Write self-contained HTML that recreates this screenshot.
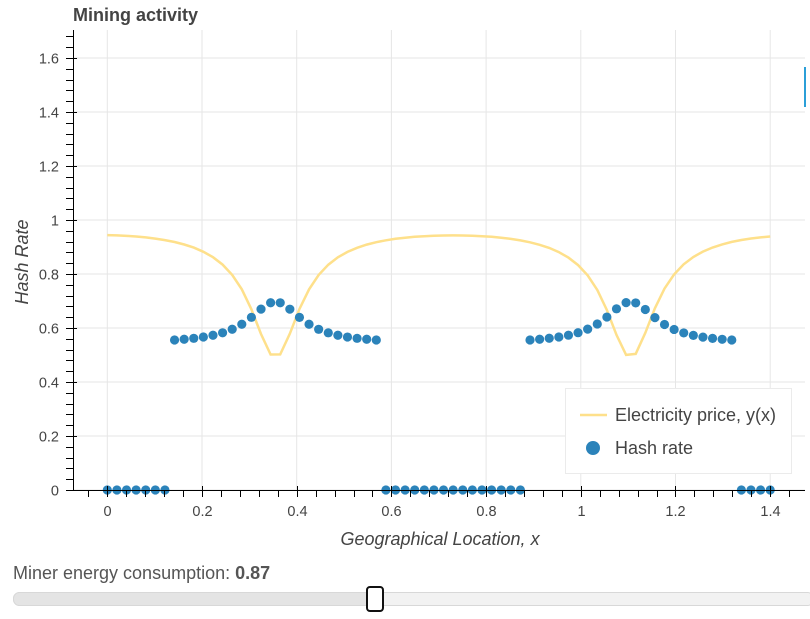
<!DOCTYPE html>
<html><head><meta charset="utf-8"><style>
body{margin:0;width:810px;height:619px;background:#fff;overflow:hidden;font-family:"Liberation Sans",sans-serif}
svg{position:absolute;left:0;top:0}
</style></head><body>
<svg id="s" width="810" height="619" xmlns="http://www.w3.org/2000/svg" font-family="Liberation Sans, sans-serif">
<text x="73" y="21" font-size="18" font-weight="bold" fill="#444">Mining activity</text>
<g id="grid" stroke="#e6e6e6" stroke-width="1"></g>
<path id="price" fill="none" stroke="#fee08b" stroke-width="2.5"></path>
<g id="dots" fill="#2b83ba"></g>
<g id="axes" stroke="#000" stroke-width="1" fill="#444" font-size="14.5"></g>
<text x="440" y="545" font-size="18" font-style="italic" fill="#444" text-anchor="middle">Geographical Location, x</text>
<text transform="translate(28,262) rotate(-90)" font-size="18" font-style="italic" fill="#444" text-anchor="middle">Hash Rate</text>
<rect x="565.5" y="388.5" width="226" height="85" fill="#fff" stroke="#ebebeb"/>
<line x1="580" y1="415" x2="607" y2="415" stroke="#fee08b" stroke-width="2.5"/>
<text x="615" y="421" font-size="18" fill="#444">Electricity price, y(x)</text>
<circle cx="593" cy="448" r="7" fill="#2b83ba"/>
<text x="615" y="454" font-size="18" fill="#444">Hash rate</text>
<rect x="804" y="67" width="2" height="40" fill="#2b9fd8"/>
<text x="13" y="579" font-size="18" fill="#555">Miner energy consumption: <tspan font-weight="bold">0.87</tspan></text>
<rect x="13.5" y="592.5" width="800" height="13" rx="6" fill="#f2f2f2" stroke="#d8d8d8"/>
<rect x="13.5" y="592.5" width="360" height="13" rx="6" fill="#e4e4e4" stroke="#d8d8d8"/>
<rect x="367" y="587" width="16" height="24" rx="3" fill="#fff" stroke="#111" stroke-width="2"/>
</svg>
<script>
var ns="http://www.w3.org/2000/svg";
function X(v){return 107.3+473.5*v}function Y(v){return 490-270*v}
function el(p,t,a,txt){var e=document.createElementNS(ns,t);for(var k in a)e.setAttribute(k,a[k]);if(txt!=null)e.textContent=txt;document.getElementById(p).appendChild(e);return e}
for(var i=0;i<=7;i++){var x=X(i*0.2);el("grid","line",{x1:x,x2:x,y1:30,y2:490})}
for(var i=0;i<=8;i++){var y=Y(i*0.2);el("grid","line",{x1:73,x2:805,y1:y,y2:y})}
el("axes","line",{x1:73,x2:805,y1:490.5,y2:490.5});
el("axes","line",{x1:73.5,x2:73.5,y1:30,y2:490});
for(var k=-1;k<=37;k++){var v=k*0.04,x=Math.round(X(v))+0.5;if(x<74||x>805)continue;var maj=k%5==0;
el("axes","line",{x1:x,x2:x,y1:maj?486:490,y2:497});
if(maj)el("axes","text",{x:x,y:516,"text-anchor":"middle",stroke:"none"},(Math.round(v*10)/10).toString())}
for(var k=0;k<=42;k++){var v=k*0.04,y=Math.round(Y(v))+0.5;if(y<30)continue;var maj=k%5==0;
el("axes","line",{x1:66,x2:maj?77:73,y1:y,y2:y});
if(maj)el("axes","text",{x:59,y:y+5,"text-anchor":"end",stroke:"none"},k==0?"0":(Math.round(v*10)/10).toString())}
var cs=[-1.145,-0.395,0.355,1.105,1.855,2.605];
function g(x){var s=0;cs.forEach(function(c){var q=(x-c)/0.054;s+=Math.pow(1+q*q,-0.7)});return s}
var g0=g(0),g1=g(0.355);var b=(0.49-0.944)/(g1-g0),a=0.944-b*g0;
function price(x){return a+b*g(x)}
var N=70,xs=[];for(var i=0;i<N;i++)xs.push(1.4*i/(N-1));
var d="";xs.forEach(function(x,i){d+=(i?"L":"M")+X(x).toFixed(1)+","+Y(price(x)).toFixed(1)});
document.getElementById("price").setAttribute("d",d);
xs.forEach(function(x){var h=0;cs.forEach(function(c){var dx=x-c;if(Math.abs(dx)<0.222){var q=dx/0.066;h=0.542+0.155/(1+q*q)}});
el("dots","circle",{cx:X(x),cy:Y(h),r:4.6})});
</script>
</body></html>
